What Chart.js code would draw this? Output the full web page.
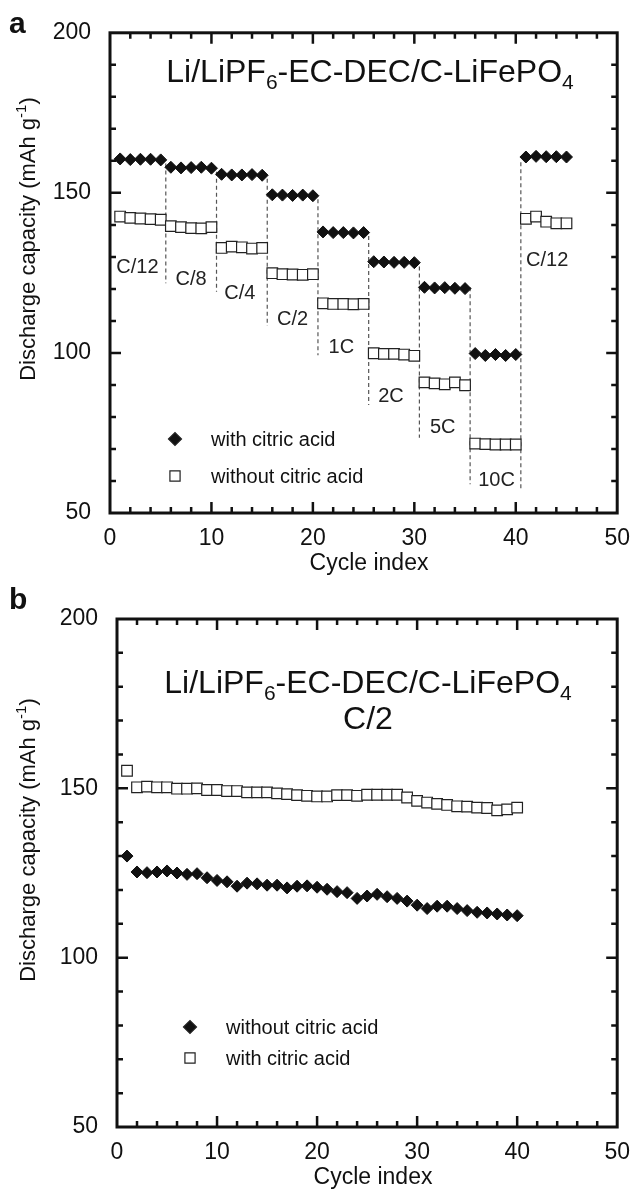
<!DOCTYPE html>
<html>
<head>
<meta charset="utf-8">
<script src="https://cdn.jsdelivr.net/npm/chart.js@4.4.1/dist/chart.umd.min.js"></script>
<style>
  html, body { margin: 0; padding: 0; background: #fff; }
  canvas { display: block; }
</style>
</head>
<body>
<canvas id="chartA" width="642" height="580"></canvas>
<canvas id="chartB" width="642" height="613"></canvas>
<script>
// panel a : rate capability
const cyclesA = [1, 2, 3, 4, 5, 6, 7, 8, 9, 10, 11, 12, 13, 14, 15, 16, 17, 18, 19, 20,
  21, 22, 23, 24, 25, 26, 27, 28, 29, 30, 31, 32, 33, 34, 35, 36, 37, 38, 39, 40,
  41, 42, 43, 44, 45];
const withAcidA = [
  160.6, 160.4, 160.5, 160.5, 160.3,
  158.0, 157.8, 157.9, 158.0, 157.7,
  155.8, 155.6, 155.6, 155.7, 155.5,
  149.4, 149.3, 149.2, 149.3, 149.1,
  137.8, 137.6, 137.6, 137.5, 137.6,
  128.5, 128.4, 128.3, 128.3, 128.2,
  120.5, 120.3, 120.4, 120.2, 120.1,
  99.8, 99.2, 99.5, 99.2, 99.5,
  161.2, 161.4, 161.3, 161.3, 161.2
];
const withoutAcidA = [
  142.6, 142.2, 142.0, 141.8, 141.6,
  139.6, 139.3, 139.0, 138.9, 139.3,
  132.8, 133.2, 133.0, 132.6, 132.8,
  124.9, 124.6, 124.5, 124.4, 124.6,
  115.5, 115.3, 115.3, 115.2, 115.3,
  99.9, 99.7, 99.7, 99.5, 99.1,
  90.8, 90.5, 90.2, 90.8, 89.9,
  71.7, 71.5, 71.4, 71.4, 71.4,
  141.9, 142.6, 141.0, 140.5, 140.5
];
const stepX = [5.5, 10.5, 15.5, 20.5, 25.5, 30.5, 35.5, 40.5];
const stepTop = [159.2, 156.6, 154.4, 148.0, 136.5, 127.0, 120.5, 159.6];
const stepBottom = [121.8, 119.1, 108.4, 99.3, 83.7, 73.5, 59.0, 57.0];
const rateNames = ["C/12", "C/8", "C/4", "C/2", "1C", "2C", "5C", "10C", "C/12"];
const rateX = [2.7, 8.0, 12.8, 18.0, 22.8, 27.7, 32.8, 38.1, 43.1];
const rateY = [127.3, 123.4, 119.0, 111.0, 102.3, 87.0, 77.2, 60.6, 129.3];

// panel b : cycling at C/2
const cyclesB = [1, 2, 3, 4, 5, 6, 7, 8, 9, 10, 11, 12, 13, 14, 15, 16, 17, 18, 19, 20,
  21, 22, 23, 24, 25, 26, 27, 28, 29, 30, 31, 32, 33, 34, 35, 36, 37, 38, 39, 40];
const withoutAcidB = [
  130.0, 125.3, 125.1, 125.3, 125.6, 125.0, 124.6, 124.8, 123.6, 122.8,
  122.4, 121.1, 122.0, 121.8, 121.4, 121.4, 120.6, 121.1, 121.2, 120.8,
  120.2, 119.5, 119.2, 117.5, 118.2, 118.7, 118.0, 117.5, 116.7, 115.5,
  114.5, 115.2, 115.2, 114.5, 113.9, 113.4, 113.2, 112.9, 112.6, 112.4
];
const withAcidB = [
  155.2, 150.3, 150.5, 150.3, 150.3, 149.9, 149.9, 150.0, 149.5, 149.5,
  149.2, 149.2, 148.8, 148.8, 148.8, 148.5, 148.3, 148.0, 147.8, 147.6,
  147.6, 148.0, 148.0, 147.8, 148.1, 148.1, 148.1, 148.1, 147.3, 146.3,
  145.8, 145.4, 145.1, 144.7, 144.6, 144.3, 144.2, 143.5, 143.8, 144.3
];

const xTicks = [0, 10, 20, 30, 40, 50];
const yTicks = [50, 100, 150, 200];

const FONT = "\"Liberation Sans\", Arial, Helvetica, sans-serif";
const INK = "#111";

function font (size, bold) {
  return (bold ? "bold " : "") + size + "px " + FONT;
}

// parts: [text, size, dy]
function drawRich (ctx, parts, x, y, align) {
  let w = 0;
  parts.forEach((p) => { ctx.font = font(p[1]); w += ctx.measureText(p[0]).width; });
  let cx = align === "center" ? x - w / 2 : x;
  ctx.textAlign = "left";
  ctx.textBaseline = "alphabetic";
  parts.forEach((p) => {
    ctx.font = font(p[1]);
    ctx.fillText(p[0], cx, y + (p[2] || 0));
    cx += ctx.measureText(p[0]).width;
  });
}

const titleParts = [["Li/LiPF", 32], ["6", 21, 7], ["-EC-DEC/C-LiFePO", 32], ["4", 21, 7]];
const yTitleParts = [["Discharge capacity (mAh g", 22], ["-1", 15, -9], [")", 22]];

const diamondStyle = {
  pointStyle: "rectRot", pointRadius: 6, borderWidth: 1,
  backgroundColor: INK, borderColor: INK, showLine: false
};
const squareStyle = {
  pointStyle: "rect", pointRadius: 7.5, borderWidth: 1.2,
  backgroundColor: "#fff", borderColor: "#222", showLine: false
};

// inward ticks on the four sides + heavy frame
const framePlugin = {
  id: "frame",
  afterDatasetsDraw (chart) {
    const { ctx, chartArea: a, scales: { x, y } } = chart;
    ctx.save();
    ctx.strokeStyle = INK;
    ctx.lineWidth = 2.5;
    ctx.beginPath();
    for (let v = 2; v < 50; v += 2) {
      const px = x.getPixelForValue(v);
      const len = v % 10 === 0 ? 11 : 6;
      ctx.moveTo(px, a.bottom); ctx.lineTo(px, a.bottom - len);
      ctx.moveTo(px, a.top); ctx.lineTo(px, a.top + len);
    }
    for (let v = 60; v < 200; v += 10) {
      const py = y.getPixelForValue(v);
      const len = v % 50 === 0 ? 11 : 6;
      ctx.moveTo(a.left, py); ctx.lineTo(a.left + len, py);
      ctx.moveTo(a.right, py); ctx.lineTo(a.right - len, py);
    }
    ctx.stroke();
    ctx.lineWidth = 3;
    ctx.strokeRect(a.left, a.top, a.right - a.left, a.bottom - a.top);
    ctx.restore();
  }
};

function decorPlugin (spec) {
  return {
    id: "decor",
    afterDraw (chart) {
      const { ctx, scales: { x, y } } = chart;
      ctx.save();
      ctx.fillStyle = INK;
      ctx.font = font(30, true);
      ctx.textAlign = "left";
      ctx.textBaseline = "alphabetic";
      ctx.fillText(spec.letter, 9, spec.letterY);

      spec.titles.forEach((t) => drawRich(ctx, t.parts, t.x, t.y, "center"));

      ctx.save();
      ctx.translate(spec.yTitle[0], spec.yTitle[1]);
      ctx.rotate(-Math.PI / 2);
      drawRich(ctx, yTitleParts, 0, 0, "center");
      ctx.restore();

      ctx.font = font(23);
      ctx.textAlign = "center";
      ctx.fillText("Cycle index", spec.xTitle[0], spec.xTitle[1]);

      if (spec.rates) {
        ctx.font = font(20);
        ctx.fillStyle = "#222";
        rateNames.forEach((n, i) => {
          ctx.fillText(n, x.getPixelForValue(rateX[i]), y.getPixelForValue(rateY[i]) + 7);
        });
      }

      spec.legend.forEach((l) => {
        ctx.fillStyle = l.fill;
        ctx.strokeStyle = "#222";
        ctx.lineWidth = 1.2;
        Chart.helpers.drawPoint(ctx, { pointStyle: l.style, radius: l.r, rotation: 0, borderWidth: 1.2 }, l.x, l.y);
        ctx.fillStyle = INK;
        ctx.font = font(20);
        ctx.textAlign = "left";
        ctx.fillText(l.label, l.x + 36, l.y + 7);
      });
      ctx.restore();
    }
  };
}

function axes (yWidth, xHeight) {
  const tickFont = { family: FONT, size: 23 };
  return {
    x: {
      type: "linear", min: 0, max: 50,
      afterBuildTicks: (s) => { s.ticks = xTicks.map((v) => ({ value: v })); },
      afterFit: (s) => { s.height = xHeight; },
      ticks: { font: tickFont, color: INK, padding: 12, maxRotation: 0 },
      grid: { display: false, drawTicks: false },
      border: { display: false }
    },
    y: {
      type: "linear", min: 50, max: 200,
      afterBuildTicks: (s) => { s.ticks = yTicks.map((v) => ({ value: v })); },
      afterFit: (s) => { s.width = yWidth; },
      ticks: { font: tickFont, color: INK, padding: 19 },
      grid: { display: false, drawTicks: false },
      border: { display: false }
    }
  };
}

function points (xs, ys) {
  return xs.map((c, i) => ({ x: c, y: ys[i] }));
}

const baseOptions = {
  responsive: false,
  animation: false,
  devicePixelRatio: 1,
  events: [],
  plugins: { legend: { display: false }, tooltip: { enabled: false } }
};

// dashed step separators, broken by null points
const stepLines = [];
stepX.forEach((sx, i) => {
  stepLines.push({ x: sx, y: stepTop[i] }, { x: sx, y: stepBottom[i] }, { x: sx, y: null });
});

new Chart(document.getElementById("chartA"), {
  type: "scatter",
  data: {
    datasets: [
      { label: "with citric acid", data: points(cyclesA, withAcidA), ...diamondStyle },
      { label: "without citric acid", data: points(cyclesA, withoutAcidA), ...squareStyle },
      {
        label: "steps", data: stepLines, showLine: true, spanGaps: false,
        borderColor: "#555", borderWidth: 1.2, borderDash: [4, 3], pointRadius: 0
      }
    ]
  },
  options: {
    ...baseOptions,
    layout: { padding: { top: 22, right: 14, left: 0, bottom: 0 } },
    scales: axes(110, 67)
  },
  plugins: [framePlugin, decorPlugin({
    letter: "a", letterY: 33,
    titles: [{ parts: titleParts, x: 370, y: 82 }],
    yTitle: [35, 239],
    xTitle: [369, 570],
    rates: true,
    legend: [
      { style: "rectRot", r: 6.5, fill: INK, x: 175, y: 439, label: "with citric acid" },
      { style: "rect", r: 7.2, fill: "#fff", x: 175, y: 476, label: "without citric acid" }
    ]
  })]
});

new Chart(document.getElementById("chartB"), {
  type: "scatter",
  data: {
    datasets: [
      { label: "without citric acid", data: points(cyclesB, withoutAcidB), ...diamondStyle },
      { label: "with citric acid", data: points(cyclesB, withAcidB), ...squareStyle }
    ]
  },
  options: {
    ...baseOptions,
    layout: { padding: { top: 39, right: 13, left: 0, bottom: 0 } },
    scales: axes(117, 66)
  },
  plugins: [framePlugin, decorPlugin({
    letter: "b", letterY: 29,
    titles: [
      { parts: titleParts, x: 368, y: 113 },
      { parts: [["C/2", 32]], x: 368, y: 149 }
    ],
    yTitle: [35, 260],
    xTitle: [373, 604],
    rates: false,
    legend: [
      { style: "rectRot", r: 6.5, fill: INK, x: 190, y: 447, label: "without citric acid" },
      { style: "rect", r: 7.2, fill: "#fff", x: 190, y: 478, label: "with citric acid" }
    ]
  })]
});
</script>
</body>
</html>
